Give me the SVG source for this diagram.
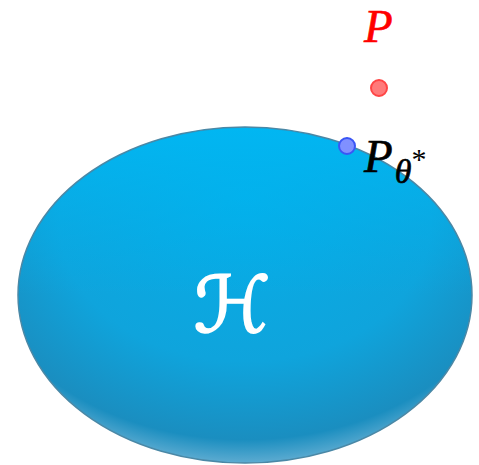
<svg xmlns="http://www.w3.org/2000/svg" width="479" height="465" viewBox="0 0 479 465">
<defs>
<radialGradient id="fillG" cx="0.5" cy="0.35" r="0.68" fx="0.5" fy="0.2">
<stop offset="0" stop-color="#05aee8"/>
<stop offset="0.6" stop-color="#0fa4dc"/>
<stop offset="0.88" stop-color="#1a8ec0"/>
<stop offset="1" stop-color="#7ab8d8"/>
</radialGradient>
<linearGradient id="topG" x1="0" y1="0" x2="0" y2="1">
<stop offset="0" stop-color="#00b8f4" stop-opacity="0.9"/>
<stop offset="0.5" stop-color="#00b0ec" stop-opacity="0"/>
</linearGradient>
<style>
.lbl{font-family:"Liberation Serif","DejaVu Serif",serif;font-style:italic}
.pt{stroke-width:2}
</style>
</defs>
<g id="hypothesis">
<ellipse cx="245" cy="295" rx="227" ry="168" fill="url(#fillG)" stroke="#4a88a6" stroke-width="1.5"/>
<ellipse cx="245" cy="295" rx="226" ry="167" fill="url(#topG)"/>
<text x="232" y="332" text-anchor="middle" font-family="DejaVu Sans, sans-serif" font-size="78" fill="#ffffff" stroke="#ffffff" stroke-width="1.8">ℋ</text>
</g>
<g id="P">
<circle class="pt" cx="379" cy="88" r="8" fill="#ff7a7a" stroke="#ff4545"/>
<text class="lbl" x="364" y="42" font-size="47" fill="#ff0000" stroke="#ff0000" stroke-width="0.6">P</text>
</g>
<g id="Ptheta">
<circle class="pt" cx="347" cy="146" r="8" fill="#8090ff" stroke="#3a55f5"/>
<text class="lbl" x="364" y="172" font-size="47" fill="#000000" stroke="#000000" stroke-width="0.6">P<tspan font-size="34" dx="2" dy="11">θ</tspan><tspan font-size="30" font-style="normal" stroke-width="0" dy="-14">*</tspan></text>
</g>
</svg>
